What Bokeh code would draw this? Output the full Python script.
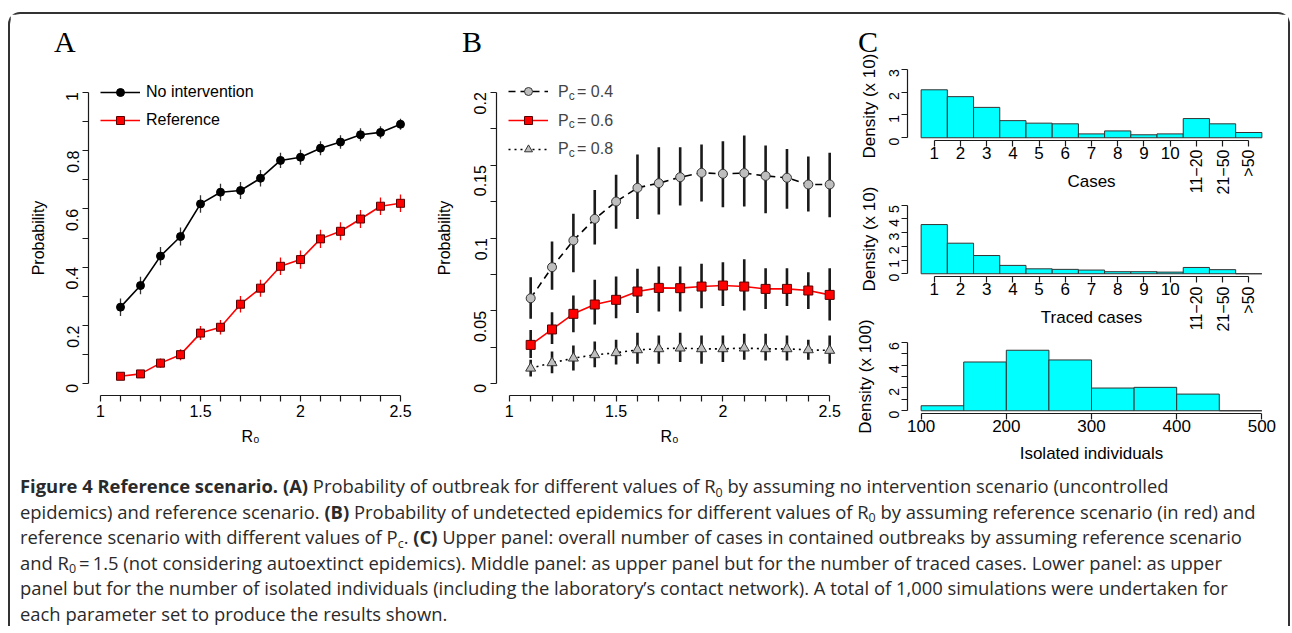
import math
from bokeh.plotting import figure
from bokeh.models import (Range1d, FixedTicker, Legend, LegendItem, Label, LabelSet, Title,
                          ColumnDataSource, Div)
from bokeh.layouts import row, column
from bokeh.embed import file_html
from bokeh.resources import INLINE
from bokeh.core.properties import value

# ---------------- data ----------------
R0 = [1.1, 1.2, 1.3, 1.4, 1.5, 1.6, 1.7, 1.8, 1.9, 2.0, 2.1, 2.2, 2.3, 2.4, 2.5]

no_intervention = [0.263, 0.337, 0.438, 0.505, 0.617, 0.657, 0.663, 0.705, 0.766, 0.777,
                   0.808, 0.829, 0.854, 0.862, 0.890]
no_intervention_err = [0.030, 0.030, 0.031, 0.031, 0.030, 0.029, 0.029, 0.028, 0.026, 0.026,
                       0.024, 0.023, 0.022, 0.021, 0.019]
reference = [0.026, 0.034, 0.071, 0.100, 0.174, 0.194, 0.273, 0.328, 0.403, 0.426,
             0.497, 0.523, 0.565, 0.609, 0.619]
reference_err = [0.011, 0.012, 0.016, 0.019, 0.024, 0.025, 0.028, 0.029, 0.030, 0.031,
                 0.031, 0.031, 0.031, 0.030, 0.030]

pc04 = [0.0587, 0.0800, 0.0983, 0.1131, 0.1250, 0.1344, 0.1376, 0.1417, 0.1447, 0.1440,
        0.1445, 0.1426, 0.1413, 0.1367, 0.1367]
pc04_lo = [0.0446, 0.0645, 0.0766, 0.0955, 0.1063, 0.1131, 0.1161, 0.1223, 0.1250, 0.1211,
           0.1216, 0.1170, 0.1200, 0.1182, 0.1143]
pc04_hi = [0.0731, 0.0976, 0.1166, 0.1330, 0.1433, 0.1573, 0.1623, 0.1623, 0.1641, 0.1664,
           0.1703, 0.1634, 0.1611, 0.1559, 0.1584]
pc06 = [0.0267, 0.0373, 0.0480, 0.0544, 0.0576, 0.0633, 0.0658, 0.0656, 0.0667, 0.0674,
        0.0667, 0.0651, 0.0651, 0.0640, 0.0610]
pc06_lo = [0.0178, 0.0274, 0.0354, 0.0407, 0.0450, 0.0485, 0.0496, 0.0496, 0.0519, 0.0533,
           0.0503, 0.0514, 0.0533, 0.0514, 0.0434]
pc06_hi = [0.0370, 0.0491, 0.0606, 0.0713, 0.0736, 0.0789, 0.0805, 0.0805, 0.0823, 0.0834,
           0.0855, 0.0793, 0.0793, 0.0766, 0.0793]
pc08 = [0.0107, 0.0144, 0.0176, 0.0199, 0.0213, 0.0233, 0.0240, 0.0245, 0.0240, 0.0240,
        0.0245, 0.0240, 0.0240, 0.0233, 0.0229]
pc08_lo = [0.0050, 0.0073, 0.0091, 0.0114, 0.0133, 0.0137, 0.0137, 0.0149, 0.0137, 0.0149,
           0.0165, 0.0160, 0.0160, 0.0165, 0.0137]
pc08_hi = [0.0165, 0.0222, 0.0263, 0.0290, 0.0302, 0.0350, 0.0331, 0.0350, 0.0331, 0.0331,
           0.0343, 0.0343, 0.0331, 0.0302, 0.0331]
pc_values = ["0.4", "0.6", "0.8"]

case_labels = ["1", "2", "3", "4", "5", "6", "7", "8", "9", "10", "11\u221220", "21\u221250", ">50"]
cases_density = [2.10, 1.80, 1.33, 0.75, 0.64, 0.61, 0.17, 0.30, 0.13, 0.17, 0.84, 0.61, 0.23]
traced_density = [3.59, 2.23, 1.33, 0.61, 0.36, 0.32, 0.27, 0.15, 0.15, 0.12, 0.46, 0.30, 0.0]

isolated_edges = [100, 150, 200, 250, 300, 350, 400, 450, 500]
isolated_density = [0.44, 4.27, 5.30, 4.45, 1.99, 2.05, 1.46, 0.0]

panel_letters = ["A", "B", "C"]

# ---------------- helpers ----------------
FONT = "Liberation Sans"
INK = "#1a1a1a"


def base_fig(w, h, xr, yr, ml, mr, mt, mb, transparent=False):
    p = figure(width=w, height=h, x_range=Range1d(*xr), y_range=Range1d(*yr),
               output_backend="svg", toolbar_location=None,
               min_border_left=ml, min_border_right=mr, min_border_top=mt, min_border_bottom=mb)
    p.outline_line_color = None
    p.xgrid.visible = False
    p.ygrid.visible = False
    if transparent:
        p.background_fill_alpha = 0
        p.border_fill_alpha = 0
    else:
        p.background_fill_color = "white"
        p.border_fill_color = "white"
    return p


def style_axis(ax, ticks, minor, bounds, size, standoff, label, label_size, label_standoff,
               labels=None, vertical=False):
    ax.ticker = FixedTicker(ticks=ticks, minor_ticks=minor)
    ax.bounds = bounds
    if labels is None:
        labels = {float(t): f"{t:g}" for t in ticks}
    ax.major_label_overrides = labels
    ax.axis_line_color = INK
    ax.axis_line_width = 1.2
    for k in ("major", "minor"):
        setattr(ax, f"{k}_tick_line_color", INK)
        setattr(ax, f"{k}_tick_line_width", 1.2)
        setattr(ax, f"{k}_tick_in", 0)
        setattr(ax, f"{k}_tick_out", 6)
    ax.major_label_text_font = FONT
    ax.major_label_text_font_size = size
    ax.major_label_text_color = "black"
    ax.major_label_standoff = standoff
    if vertical:
        ax.major_label_orientation = math.pi / 2
    if label:
        ax.axis_label = label
        ax.axis_label_text_font = FONT
        ax.axis_label_text_font_style = "normal"
        ax.axis_label_text_font_size = label_size
        ax.axis_label_text_color = "black"
        ax.axis_label_standoff = label_standoff


# ---------------- Panel A ----------------
pA = base_fig(415, 452, (0.94, 2.56), (-0.04, 1.04), 78, 13, 66, 71)
style_axis(pA.xaxis[0], [1, 1.5, 2, 2.5], [1.1, 1.2, 1.3, 1.4, 1.6, 1.7, 1.8, 1.9, 2.1, 2.2, 2.3, 2.4],
           (1, 2.5), "16px", 3, "R\u2080", "16px", 8)
style_axis(pA.yaxis[0], [0, 0.2, 0.4, 0.6, 0.8, 1], [0.1, 0.3, 0.5, 0.7, 0.9], (0, 1),
           "16px", 10, "Probability", "16px", 11, vertical=True)

ni_lo = [v - e for v, e in zip(no_intervention, no_intervention_err)]
ni_hi = [v + e for v, e in zip(no_intervention, no_intervention_err)]
rf_lo = [v - e for v, e in zip(reference, reference_err)]
rf_hi = [v + e for v, e in zip(reference, reference_err)]

lA1 = pA.line(R0, no_intervention, line_color="black", line_width=1.6)
lA2 = pA.line(R0, reference, line_color="#ff0000", line_width=1.6)
pA.segment(R0, ni_lo, R0, ni_hi, line_color="#333333", line_width=1.3)
pA.segment(R0, rf_lo, R0, rf_hi, line_color="#ff0000", line_width=1.3)
sA1 = pA.scatter(R0, no_intervention, marker="circle", size=8, fill_color="black", line_color="black")
sA2 = pA.scatter(R0, reference, marker="square", size=8, fill_color="#ff0000", line_color="#5a0000",
                 line_width=1)

legA = Legend(items=[LegendItem(label="No intervention", renderers=[lA1, sA1]),
                     LegendItem(label="Reference", renderers=[lA2, sA2])],
              location=(12, 265), orientation="vertical", padding=0, margin=0, spacing=8,
              glyph_width=40, glyph_height=20, label_height=20, label_standoff=6,
              label_text_font=FONT, label_text_font_size="16px", label_text_color="black",
              background_fill_alpha=0, border_line_color=None)
pA.add_layout(legA)

# ---------------- Panel B ----------------
pB = base_fig(425, 452, (0.94, 2.56), (-0.008, 0.208), 71, 8, 66, 71)
style_axis(pB.xaxis[0], [1, 1.5, 2, 2.5], [1.1, 1.2, 1.3, 1.4, 1.6, 1.7, 1.8, 1.9, 2.1, 2.2, 2.3, 2.4],
           (1, 2.5), "16px", 3, "R\u2080", "16px", 8)
style_axis(pB.yaxis[0], [0, 0.05, 0.1, 0.15, 0.2], [0.025, 0.075, 0.125, 0.175], (0, 0.2),
           "16px", 10, "Probability", "16px", 13, vertical=True)

lB1 = pB.line(R0, pc04, line_color="black", line_width=1.6, line_dash="7 5")
lB2 = pB.line(R0, pc06, line_color="#ff0000", line_width=1.6)
lB3 = pB.line(R0, pc08, line_color="black", line_width=1.6, line_dash="2 4")
pB.segment(R0, pc04_lo, R0, pc04_hi, line_color=INK, line_width=2.6)
pB.segment(R0, pc06_lo, R0, pc06_hi, line_color=INK, line_width=2.6)
pB.segment(R0, pc08_lo, R0, pc08_hi, line_color=INK, line_width=2.6)
sB1 = pB.scatter(R0, pc04, marker="circle", size=9, fill_color="#bebebe", line_color="#333333")
sB2 = pB.scatter(R0, pc06, marker="square", size=9, fill_color="#ff0000", line_color="#5a0000")
sB3 = pB.scatter(R0, pc08, marker="triangle", size=10, fill_color="#bebebe", line_color="#333333")

legB = Legend(items=[LegendItem(label=" ", renderers=[lB1, sB1]),
                     LegendItem(label=" ", renderers=[lB2, sB2]),
                     LegendItem(label=" ", renderers=[lB3, sB3])],
              location=(12, 236), orientation="vertical", padding=0, margin=0, spacing=9,
              glyph_width=40, glyph_height=20, label_height=20, label_standoff=6,
              label_text_font=FONT, label_text_font_size="16px",
              background_fill_alpha=0, border_line_color=None)
pB.add_layout(legB)
for i, v in enumerate(pc_values):
    yc = 304 - i * 28.7
    pB.add_layout(Label(x=61.5, y=yc, x_units="screen", y_units="screen", text="P",
                        text_font=FONT, text_font_size="16px", text_baseline="middle"))
    pB.add_layout(Label(x=72.3, y=yc - 4, x_units="screen", y_units="screen", text="c",
                        text_font=FONT, text_font_size="12px", text_baseline="middle"))
    pB.add_layout(Label(x=80.5, y=yc, x_units="screen", y_units="screen", text="= " + v,
                        text_font=FONT, text_font_size="16px", text_baseline="middle"))

# ---------------- Panel C ----------------
cat_x = list(range(1, len(case_labels) + 1))
cat_main = {float(i): (lab if i <= 10 else "") for i, lab in zip(cat_x, case_labels)}


def hist_cat(h, ymax, mt, extra, dens, yticks, xtitle, ytitle, title_offset, rot_y, xt_y,
             transparent):
    # frame: 74px for the data area (R-style 4% padding) plus `extra` px below it, which holds
    # the tick labels, so that in-frame annotations can carry the rotated labels
    ylo = -0.04 * ymax
    yhi = ymax * 1.04
    scale = 74.0 / (yhi - ylo)
    p = base_fig(438, h, (-0.02, 14.02), (ylo - extra / scale, yhi), 57, 13, mt,
                 h - mt - 74 - extra, transparent)
    style_axis(p.xaxis[0], cat_x, [], (1, 13), "17px", 0, None, None, None, labels=cat_main)
    p.xaxis[0].fixed_location = ylo
    style_axis(p.yaxis[0], yticks, [], (yticks[0], yticks[-1]), "14px", 7, None, None, None,
               vertical=True)
    p.vbar(x=cat_x, width=1, top=dens, bottom=0, fill_color="#00ffff", line_color="#333333",
           line_width=1)
    src = ColumnDataSource(dict(x=cat_x[10:], text=case_labels[10:]))
    p.add_layout(LabelSet(source=src, x="x", y=rot_y, y_units="screen", text="text",
                          angle=math.pi / 2, text_align="right", text_baseline="middle",
                          text_font=value(FONT), text_font_size="16px", text_color="black"))
    p.add_layout(Label(x=7, y=xt_y, y_units="screen", text=xtitle, text_align="center",
                       text_baseline="middle", text_font=FONT, text_font_size="17px",
                       text_color="black"))
    p.add_layout(Title(text=ytitle, align="left", offset=title_offset, standoff=5,
                       vertical_align="bottom", text_font=FONT, text_font_size="17px",
                       text_font_style="normal", text_color="black"), "left")
    return p


pC1 = hist_cat(194, 3, 52, 60, cases_density, [0, 1, 2, 3], "Cases", "Density (x 10)",
               42, 51, 19, False)
pC2 = hist_cat(168, 5, 22, 64, traced_density, [0, 1, 2, 3, 4, 5], "Traced cases",
               "Density (x 10)", 49, 54, 23, True)
pC2.margin = (-28, 0, 0, 0)

pC3 = base_fig(438, 150, (84, 516), (-0.24, 6.24), 57, 13, 23, 53, True)
style_axis(pC3.xaxis[0], [100, 200, 300, 400, 500], [], (100, 500), "17px", 0,
           "Isolated individuals", "17px", 9)
style_axis(pC3.yaxis[0], [0, 2, 4, 6], [1, 3, 5], (0, 6), "14px", 7, "Density (x 100)", "17px", 7,
           vertical=True)
pC3.quad(left=isolated_edges[:-1], right=isolated_edges[1:], bottom=0, top=isolated_density,
         fill_color="#00ffff", line_color="#333333", line_width=1)
pC3.margin = (-32, 0, 0, 0)

colC = column(pC1, pC2, pC3, spacing=0)
top = row(pA, pB, colC, spacing=0)

# ---------------- panel letters (overlay) ----------------
letter_x = [44, 452, 848]
spans = "".join(
    f'<span style="position:absolute;left:{x}px;top:13px;font-family:\'Liberation Serif\';'
    f'font-size:30px;line-height:30px;color:#000;">{t}</span>'
    for t, x in zip(panel_letters, letter_x))
letters = Div(text='<div style="position:relative;width:1278px;height:60px;">' + spans + '</div>',
              width=1278, height=60, margin=(-452, 0, 0, 0))

# ---------------- caption ----------------
def sub(t):
    return ('<span style="font-size:68%;position:relative;top:0.3em;line-height:0">' + t + '</span>')

cap_lines = [
    '<b>Figure 4 Reference scenario.</b> <b>(A)</b> Probability of outbreak for different values of R'
    + sub('0') + ' by assuming no intervention scenario (uncontrolled',
    'epidemics) and reference scenario. <b>(B)</b> Probability of undetected epidemics for different values of R'
    + sub('0') + ' by assuming reference scenario (in red) and',
    'reference scenario with different values of P' + sub('c') + '. <b>(C)</b> Upper panel: overall number '
    'of cases in contained outbreaks by assuming reference scenario',
    'and R' + sub('0') + '\u2009=\u20091.5 (not considering autoextinct epidemics). Middle panel: as upper '
    'panel but for the number of traced cases. Lower panel: as upper',
    'panel but for the number of isolated individuals (including the laboratory\u2019s contact network). '
    'A total of 1,000 simulations were undertaken for',
    'each parameter set to produce the results shown.',
]
cap_html = ('<div style="font-family:\'Open Sans\';font-size:18.4px;line-height:25.5px;color:#2a2a2a;'
            'white-space:nowrap;padding-left:10px;padding-top:7px;">' + '<br>'.join(cap_lines) + '</div>')
caption = Div(text=cap_html, width=1278, height=160, margin=(392, 0, 0, 0))

root = column(top, letters, caption, spacing=0,
              styles={"border": "2px solid #333333", "border-bottom": "none",
                      "border-radius": "12px 12px 0 0", "margin-top": "12px", "margin-left": "8px"})

open("out.html", "w").write(file_html(root, INLINE))
